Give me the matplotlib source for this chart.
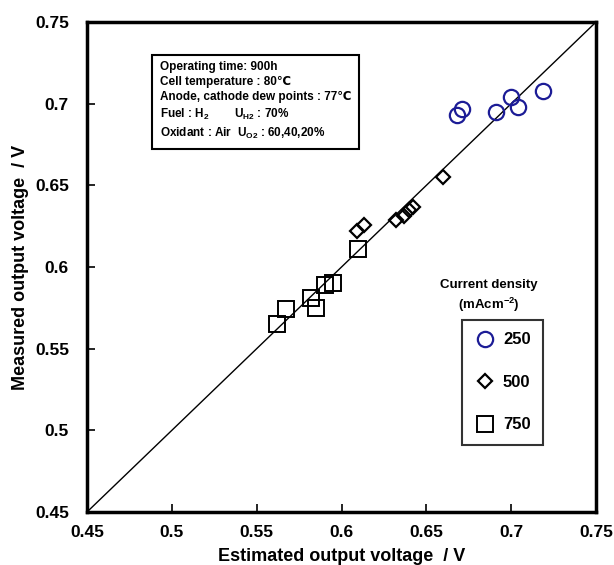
import matplotlib
matplotlib.use("Agg")
import matplotlib.pyplot as plt

plt.rcParams['font.family'] = ['Liberation Sans', 'DejaVu Sans']
plt.rcParams['mathtext.fontset'] = 'custom'
plt.rcParams['mathtext.rm'] = 'Liberation Sans'
plt.rcParams['mathtext.bf'] = 'Liberation Sans:bold'

# estimated vs measured output voltage, 900h operation
est_250 = [0.668, 0.671, 0.691, 0.700, 0.704, 0.719]
meas_250 = [0.693, 0.697, 0.695, 0.704, 0.698, 0.708]

est_500 = [0.609, 0.613, 0.632, 0.637, 0.640, 0.642, 0.660]
meas_500 = [0.622, 0.626, 0.629, 0.631, 0.635, 0.637, 0.655]

est_750 = [0.562, 0.567, 0.582, 0.585, 0.590, 0.595, 0.610]
meas_750 = [0.565, 0.574, 0.581, 0.575, 0.589, 0.590, 0.611]

ticks = [0.45, 0.5, 0.55, 0.6, 0.65, 0.7, 0.75]
tick_labels = ['0.45', '0.5', '0.55', '0.6', '0.65', '0.7', '0.75']

fig = plt.figure(figsize=(6.14, 5.65), dpi=100)
ax = fig.add_axes([0.1417, 0.0938, 0.8290, 0.8672])

ax.plot([0.45, 0.75], [0.45, 0.75], color='black', lw=1.0, zorder=1)

h1, = ax.plot(est_250, meas_250, 'o', ms=11, mfc='none', mec='#1c1c96', mew=1.6, ls='none', zorder=3)
h2, = ax.plot(est_500, meas_500, 'D', ms=7.5, mfc='none', mec='black', mew=1.6, ls='none', zorder=3)
h3, = ax.plot(est_750, meas_750, 's', ms=11.5, mfc='none', mec='black', mew=1.4, ls='none', zorder=3)

ax.set_xlim(0.45, 0.75)
ax.set_ylim(0.45, 0.75)
ax.set_xticks(ticks)
ax.set_xticklabels(tick_labels)
ax.set_yticks(ticks)
ax.set_yticklabels(tick_labels)
ax.tick_params(direction='in', length=6, width=1.2, labelsize=12.5,
               top=False, right=False)
ax.tick_params(axis='x', pad=9)
ax.tick_params(axis='y', pad=13)
for lab in ax.get_xticklabels() + ax.get_yticklabels():
    lab.set_fontweight('bold')
for s in ax.spines.values():
    s.set_linewidth(2.5)

ax.set_xlabel('Estimated output voltage  / V', fontsize=13, fontweight='bold', labelpad=6)
ax.set_ylabel('Measured output voltage  / V', fontsize=13, fontweight='bold', labelpad=4)

info = ('Operating time: 900h\n'
        'Cell temperature : 80\u2103\n'
        'Anode, cathode dew points : 77\u2103\n'
        'Fuel : H$_\\mathbf{2}$        U$_\\mathbf{H2}$ : 70%\n'
        'Oxidant : Air  U$_\\mathbf{O2}$ : 60,40,20%')
ax.text(0.143, 0.92, info, transform=ax.transAxes, fontsize=8.5, fontweight='bold',
        va='top', ha='left', linespacing=1.33,
        bbox=dict(boxstyle='square,pad=0.65', fc='white', ec='black', lw=1.5))

ax.text(0.79, 0.405, 'Current density\n(mAcm$^\\mathbf{-2}$)', transform=ax.transAxes,
        fontsize=9.5, fontweight='bold', ha='center', va='bottom', linespacing=1.35)

leg = ax.legend([h1, h2, h3], ['250', '500', '750'], loc='upper left',
                bbox_to_anchor=(0.737, 0.392), frameon=True, fancybox=False,
                fontsize=12, labelspacing=1.65, handletextpad=0.5, handlelength=1.2,
                borderpad=0.75, borderaxespad=0)
leg.get_frame().set_edgecolor('black')
leg.get_frame().set_linewidth(1.5)
for t in leg.get_texts():
    t.set_fontweight('bold')

fig.savefig('out.png', dpi=100)
